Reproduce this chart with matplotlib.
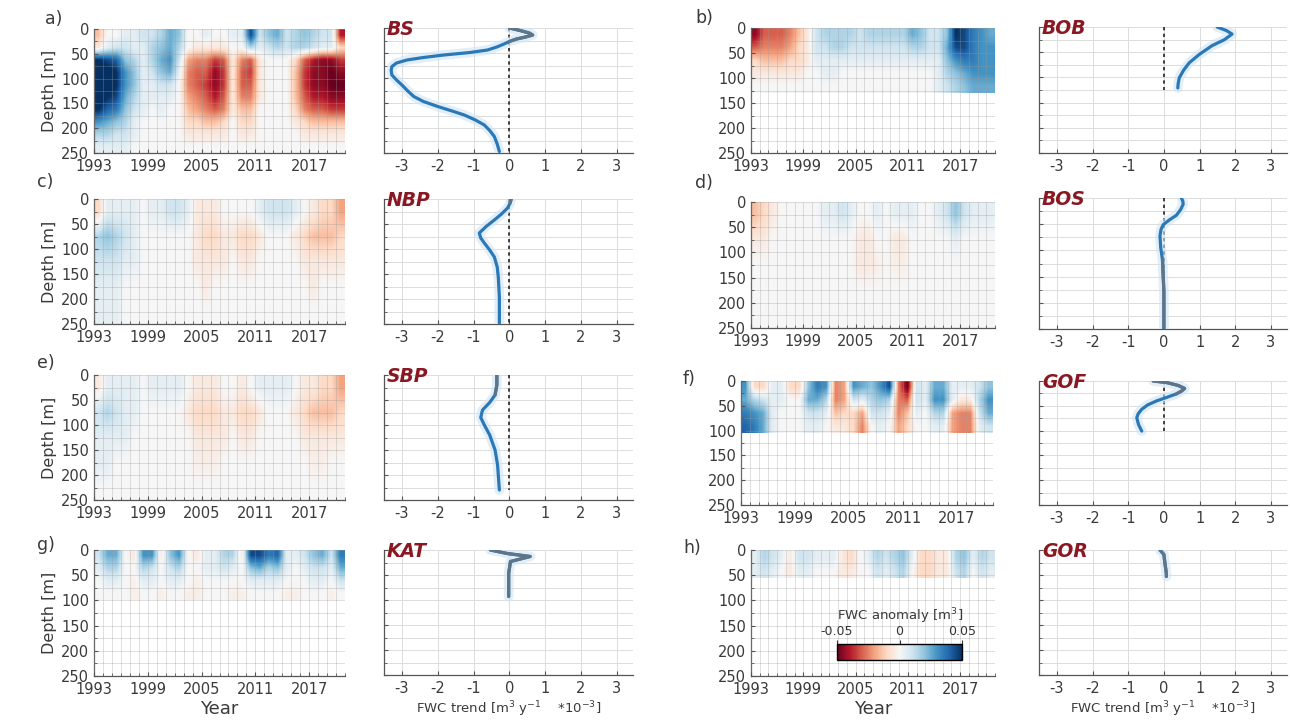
import numpy as np
import matplotlib.pyplot as plt
from matplotlib.ticker import MultipleLocator

plt.rcParams['axes.unicode_minus'] = False

W, H = 1290, 724
fig = plt.figure(figsize=(W / 100, H / 100), dpi=100)

# years on the x axis of the anomaly panels
years = list(range(1993, 2021))

# FWC anomaly in 1e-3 m^3: one row per depth layer (top -> bottom), one column per year
bs_bottom = 250
bs_anom = [
    [-15, 0, 0, 5, 5, 10, 10, 15, 25, 20, 0, 0, 5, 0, 0, 5, 5, 45, 10, 20, 25, 10, 15, 20, 15, 10, 10, -40],
    [-5, 5, 10, 10, 5, 5, 15, 20, 25, 15, 0, -5, -5, -5, -5, 0, 0, 15, 5, 10, 15, 10, 15, 15, 10, 5, 5, -10],
    [50, 45, 40, 20, 15, 5, 15, 25, 30, 10, -20, -25, -25, -35, -30, -5, -25, -30, -5, 0, 0, 0, -10, -30, -40, -45, -45, -35],
    [55, 55, 50, 30, 20, 5, 10, 20, 25, 5, -25, -30, -30, -45, -35, -5, -30, -35, -5, 0, 0, 0, -15, -35, -45, -45, -50, -45],
    [55, 55, 50, 30, 20, 5, 5, 10, 10, 0, -25, -30, -35, -45, -35, -5, -30, -30, -5, 0, 0, 0, -15, -35, -45, -45, -50, -50],
    [55, 50, 45, 25, 15, 5, 5, 5, 5, 0, -20, -25, -30, -40, -30, -5, -25, -25, -5, 0, 0, 0, -15, -30, -40, -40, -45, -45],
    [50, 40, 35, 20, 10, 5, 0, 5, 0, 0, -15, -20, -25, -30, -25, -5, -15, -15, 0, 0, 0, 0, -10, -25, -30, -30, -35, -35],
    [30, 25, 20, 15, 5, 0, 0, 0, 0, 0, -10, -10, -15, -15, -10, 0, -10, -10, 0, 0, 0, 0, -5, -10, -15, -15, -15, -15],
    [15, 15, 10, 10, 5, 0, 0, 0, 0, 0, -5, -5, -5, -5, -5, 0, -5, -5, 0, 0, 0, 0, 0, -5, -5, -5, -5, -5],
    [5, 5, 5, 5, 0, 0, 0, 0, 0, 0, 0, 0, 0, 0, 0, 0, 0, 0, 0, 0, 0, 0, 0, 0, 0, 0, 0, 0],
]
bob_bottom = 130
bob_anom = [
    [-45, -30, -30, -30, -25, -15, -5, 10, 15, 15, 15, 15, 10, 15, 15, 15, 15, 15, 25, 20, 10, 10, 20, 50, 45, 35, 30, 25],
    [-30, -25, -25, -25, -20, -10, -5, 10, 10, 15, 15, 10, 10, 10, 10, 10, 10, 10, 15, 15, 10, 10, 25, 45, 45, 35, 30, 30],
    [-10, -15, -15, -15, -10, -10, -5, 5, 5, 5, 5, 5, 5, 5, 5, 5, 5, 5, 5, 5, 5, 5, 20, 30, 35, 35, 30, 30],
    [-5, -5, -5, -5, -5, -5, 0, 0, 5, 5, 0, 0, 0, 0, 0, 0, 0, 0, 0, 0, 0, 5, 15, 20, 25, 30, 30, 30],
    [0, 0, 0, 0, 0, 0, 0, 0, 0, 0, 0, 0, 0, 0, 0, 0, 0, 0, 0, 0, 0, 5, 10, 15, 20, 25, 25, 25],
]
nbp_bottom = 250
nbp_anom = [
    [-10, 5, 5, 5, 5, 0, 5, 5, 10, 10, 5, -5, -5, -5, 0, 0, 0, 0, 5, 10, 10, 10, 5, 0, -5, -10, -10, -20],
    [15, 20, 15, 10, 5, 0, 0, 0, 0, 0, 0, -5, -10, -10, -5, -5, -10, -10, -5, 0, 0, 0, -5, -10, -15, -15, -15, -10],
    [10, 10, 10, 5, 5, 0, 0, 0, 0, 0, 0, -5, -5, -5, -5, 0, -5, -5, 0, 0, 0, 0, 0, -5, -5, -5, -5, -5],
    [5, 5, 5, 0, 0, 0, 0, 0, 0, 0, 0, 0, -5, 0, 0, 0, 0, 0, 0, 0, 0, 0, 0, 0, -5, 0, 0, 0],
    [5, 5, 5, 0, 0, 0, 0, 0, 0, 0, 0, 0, 0, 0, 0, 0, 0, 0, 0, 0, 0, 0, 0, 0, 0, 0, 0, 0],
]
bos_bottom = 250
bos_anom = [
    [-15, -10, -5, 0, 0, 0, 0, 0, 5, 5, 10, 5, 0, 0, 5, 0, 5, 5, 5, 0, 0, 5, 10, 20, 10, 5, 5, 5],
    [-5, -5, 0, 0, 0, 0, 0, 0, 0, 0, 0, 0, -5, -5, 0, 0, -5, -5, 0, 0, 0, 0, 0, 5, 0, 0, 0, 0],
    [0, 0, 0, 0, 0, 0, 0, 0, 0, 0, 0, 0, -5, -5, -3, 0, -3, -3, 0, 0, 0, 0, 0, 0, 0, 0, 0, 0],
    [0, 0, 0, 0, 0, 0, 0, 0, 0, 0, 0, 0, 0, 0, 0, 0, 0, 0, 0, 0, 0, 0, 0, 0, 0, 0, 0, 0],
    [0, 0, 0, 0, 0, 0, 0, 0, 0, 0, 0, 0, 0, 0, 0, 0, 0, 0, 0, 0, 0, 0, 0, 0, 0, 0, 0, 0],
]
sbp_bottom = 250
sbp_anom = [
    [-5, 5, 5, 5, 5, 0, 5, 5, 5, 5, 0, -5, -5, -5, 0, 0, -5, 0, 5, 5, 5, 5, 0, -5, -5, -10, -10, -20],
    [10, 15, 10, 5, 5, 0, 0, 0, 0, 0, -5, -10, -10, -10, -5, -5, -10, -10, -5, 0, 0, 0, -5, -10, -15, -15, -15, -10],
    [5, 5, 5, 5, 0, 0, 0, 0, 0, 0, 0, -5, -5, -5, -5, 0, -5, -5, 0, 0, 0, 0, 0, -5, -5, -5, -5, -5],
    [5, 5, 0, 0, 0, 0, 0, 0, 0, 0, 0, -3, -3, -3, 0, 0, 0, 0, 0, 0, 0, 0, 0, 0, -3, -3, 0, 0],
    [0, 0, 0, 0, 0, 0, 0, 0, 0, 0, 0, 0, 0, 0, 0, 0, 0, 0, 0, 0, 0, 0, 0, 0, 0, 0, 0, 0],
]
gof_bottom = 105
gof_anom = [
    [30, -10, -10, 5, 5, -10, -10, 20, 35, 30, -25, -20, 30, 25, 20, 30, 45, -25, -50, 10, 5, 25, 25, 5, 5, 5, 10, 20],
    [25, 15, 10, 5, 5, 0, 0, 25, 25, 15, -25, -20, 10, 5, 15, 20, 15, -25, -30, 10, 5, 30, 30, 5, -5, -5, 15, 30],
    [35, 30, 25, 5, 0, 0, 0, 10, 10, 5, -15, -10, -10, -20, 10, 10, 5, -25, -15, 5, 0, 15, 15, -20, -25, -25, 10, 25],
    [40, 35, 25, 5, 0, 0, 0, 5, 5, 0, -5, -5, -10, -25, 0, 5, 0, -20, -10, 0, 0, 5, 5, -20, -25, -25, 5, 10],
]
kat_bottom = 100
kat_anom = [
    [10, 25, 25, 0, -5, 30, 30, -5, 20, 30, 0, -5, 5, 5, 15, 15, -5, 45, 45, 35, 40, 5, 5, 10, 20, 25, 10, 35],
    [5, 15, 15, 0, 0, 15, 10, 0, 10, 15, 0, 0, 5, 5, 10, 5, 0, 20, 25, 15, 20, 5, 0, 5, 10, 10, 5, 25],
    [0, 5, 5, 0, -3, 5, 5, 0, 5, 5, 0, -3, 0, 0, 0, 0, 0, 5, 5, 5, 5, 0, 0, 0, 5, 5, 0, 10],
    [0, 0, 0, 0, -3, 0, 0, -3, 0, 0, -3, -3, 0, 0, 0, -3, -3, 0, 0, 0, 0, -3, -3, 0, 0, 0, -3, 0],
]
gor_bottom = 55
gor_anom = [
    [5, 15, 10, 5, -5, 10, 10, 5, 5, 5, -5, -10, 0, 5, 15, 10, 15, 20, 5, -10, -10, -5, -5, 15, 20, 5, 15, 10],
    [5, 10, 5, 0, -5, 5, 5, 0, 0, 0, -5, -5, 0, 0, 10, 5, 10, 15, 0, -10, -10, -5, -5, 10, 15, 0, 10, 5],
]

# FWC trend profiles (1e-3 m^3 / yr) against depth (m)
bs_depth = [0, 5, 10, 14, 18, 22, 27, 32, 38, 44, 49, 54, 59, 64, 70, 77, 85, 94, 104, 114,
            125, 137, 147, 157, 166, 174, 184, 194, 205, 217, 232, 247]
bs_trend = [0, 0.3, 0.55, 0.65, 0.45, 0.2, 0, -0.15, -0.35, -0.61, -1.1, -1.83, -2.4, -2.86, -3.15, -3.28,
            -3.3, -3.28, -3.15, -3.0, -2.85, -2.67, -2.4, -2.0, -1.6, -1.26, -0.95, -0.7, -0.55, -0.42, -0.34, -0.28]
bob_depth = [0, 7, 14, 25, 37, 54, 71, 86, 101, 112, 121]
bob_trend = [1.49, 1.75, 1.91, 1.7, 1.35, 1.0, 0.71, 0.55, 0.43, 0.4, 0.39]
nbp_depth = [0, 8, 18, 30, 42, 55, 68, 78, 88, 102, 116, 136, 156, 196, 248]
nbp_trend = [0.05, 0.02, -0.05, -0.22, -0.42, -0.65, -0.84, -0.8, -0.7, -0.55, -0.42, -0.34, -0.31, -0.28, -0.28]
bos_depth = [0, 6, 12, 22, 33, 42, 51, 60, 72, 94, 118, 148, 179, 237, 250]
bos_trend = [0.49, 0.53, 0.54, 0.47, 0.35, 0.15, -0.02, -0.08, -0.11, -0.09, -0.04, -0.02, 0, 0, 0]
sbp_depth = [0, 20, 40, 55, 70, 85, 100, 120, 150, 180, 210, 230]
sbp_trend = [-0.35, -0.35, -0.4, -0.55, -0.75, -0.8, -0.7, -0.55, -0.4, -0.33, -0.3, -0.28]
gof_depth = [0, 3, 9, 15, 20, 26, 33, 40, 48, 57, 66, 74, 88, 101]
gof_trend = [-0.3, 0.07, 0.4, 0.58, 0.5, 0.35, 0.08, -0.2, -0.45, -0.62, -0.72, -0.76, -0.71, -0.62]
kat_depth = [0, 7, 13, 23, 47, 93]
kat_trend = [-0.53, -0.06, 0.58, 0.03, -0.02, -0.02]
gor_depth = [0, 9, 27, 47, 53]
gor_trend = [-0.11, 0, 0.03, 0.07, 0.07]

names = ['BS', 'BOB', 'NBP', 'BOS', 'SBP', 'GOF', 'KAT', 'GOR']
letters = ['a)', 'b)', 'c)', 'd)', 'e)', 'f)', 'g)', 'h)']
anoms = [bs_anom, bob_anom, nbp_anom, bos_anom, sbp_anom, gof_anom, kat_anom, gor_anom]
bottoms = [bs_bottom, bob_bottom, nbp_bottom, bos_bottom, sbp_bottom, gof_bottom, kat_bottom, gor_bottom]
depths = [bs_depth, bob_depth, nbp_depth, bos_depth, sbp_depth, gof_depth, kat_depth, gor_depth]
trends = [bs_trend, bob_trend, nbp_trend, bos_trend, sbp_trend, gof_trend, kat_trend, gor_trend]
# depth range where the trend is drawn grey (not significant)
grey_ranges = [(0, 30), (0, 0), (0, 8), (110, 250), (0, 40), (0, 30), (0, 100), (0, 60)]
zero_line = [250, 125, 250, 250, 230, 100, 0, 0]

# axes boxes in pixels: (left, top, right, bottom)
heat_boxes = [(94, 29, 345, 153), (751, 28, 995, 153),
              (94, 199, 345, 324), (751, 202, 995, 328),
              (94, 375, 345, 500), (741, 381, 993, 505),
              (94, 550, 345, 676), (751, 550, 995, 676)]
prof_boxes = [(384, 28, 633, 153), (1039, 27, 1287, 153),
              (384, 199, 633, 324), (1039, 198, 1287, 329),
              (384, 375, 633, 500), (1039, 381, 1287, 505),
              (384, 550, 633, 675), (1039, 550, 1287, 675)]
letter_pos = [(45, 19), (695, 18), (37, 182), (695, 183), (37, 363), (683, 379), (37, 545), (683, 548)]

TXT = '#3a3a3a'
BLUE = '#2b78b6'
GREY = '#5f7587'


def add_box(b):
    x0, y0, x1, y1 = b
    return fig.add_axes([x0 / W, 1 - y1 / H, (x1 - x0) / W, (y1 - y0) / H])


def style(ax):
    for s in ['top', 'right']:
        ax.spines[s].set_visible(False)
    for s in ['left', 'bottom']:
        ax.spines[s].set_color('#555555')
        ax.spines[s].set_linewidth(0.9)
    ax.tick_params(which='both', direction='in', colors='#555555', labelcolor=TXT, labelsize=10.5)
    ax.tick_params(which='major', length=3)
    ax.tick_params(which='minor', length=2)
    ax.tick_params(axis='x', pad=4.5)
    ax.set_ylim(250, 0)
    ax.yaxis.set_major_locator(MultipleLocator(50))
    ax.yaxis.set_minor_locator(MultipleLocator(25))


for i in range(8):
    # anomaly section
    ax = add_box(heat_boxes[i])
    data = np.array(anoms[i], dtype=float) * 1e-3
    ax.imshow(data, cmap='RdBu', vmin=-0.05, vmax=0.05, aspect='auto',
              extent=[years[0], years[-1] + 1, bottoms[i], 0], interpolation='bilinear')
    style(ax)
    ax.set_xlim(1993, 2021)
    ax.set_xticks([1993, 1999, 2005, 2011, 2017])
    ax.xaxis.set_minor_locator(MultipleLocator(1))
    ax.grid(which='both', color='#9a9a9a', lw=0.45, alpha=0.5)
    ax.set_axisbelow(False)
    if i % 2 == 0:
        ax.set_ylabel('Depth [m]', fontsize=11.5, color=TXT, labelpad=3)
    if i >= 6:
        ax.set_xlabel('Year', fontsize=13, color=TXT, labelpad=2)
    fig.text(letter_pos[i][0] / W, 1 - letter_pos[i][1] / H, letters[i], fontsize=12.5,
             color=TXT, va='center', ha='left')

    # trend profile
    ax = add_box(prof_boxes[i])
    style(ax)
    ax.set_yticklabels([])
    ax.set_yticklabels([], minor=True)
    ax.set_xlim(-3.5, 3.45)
    ax.set_xticks([-3, -2, -1, 0, 1, 2, 3])
    ax.grid(which='major', axis='x', color='#dcdcdc', lw=0.7)
    ax.grid(which='both', axis='y', color='#dcdcdc', lw=0.7)
    ax.set_axisbelow(True)
    d = np.array(depths[i])
    t = np.array(trends[i])
    if zero_line[i] > 0:
        ax.plot([0, 0], [0, zero_line[i]], color='#222222', lw=1.2, ls=(0, (2, 2)), zorder=2)
    ax.plot(t, d, color='#cfe5f5', lw=7, alpha=0.6, solid_capstyle='round', zorder=3)
    ax.plot(t, d, color=BLUE, lw=2.3, solid_capstyle='round', solid_joinstyle='round', zorder=4)
    g0, g1 = grey_ranges[i]
    if g1 > g0:
        tg = np.where((d >= g0) & (d <= g1), t, np.nan)
        ax.plot(tg, d, color=GREY, lw=2.3, solid_capstyle='round', solid_joinstyle='round', zorder=5)
    ax.text(0.012, 0.985, names[i], transform=ax.transAxes, fontsize=13.5, fontweight='bold',
            fontstyle='italic', color='#8a1822', va='center', ha='left', zorder=6)
    if i >= 6:
        ax.set_xlabel('FWC trend [m$^3$ y$^{-1}$    *10$^{-3}$]', fontsize=9.5, color=TXT, labelpad=2)

# colour bar inside panel h
cax = add_box((837, 644, 962, 660))
sm = plt.cm.ScalarMappable(cmap='RdBu', norm=plt.Normalize(-0.05, 0.05))
cb = fig.colorbar(sm, cax=cax, orientation='horizontal', ticks=[-0.05, 0, 0.05])
cb.ax.xaxis.set_ticks_position('top')
cb.ax.set_xticklabels(['-0.05', '0', '0.05'])
cb.ax.tick_params(labelsize=9, colors='#333333', length=3, pad=1)
cb.outline.set_linewidth(1.0)
fig.text(900 / W, 1 - 616 / H, 'FWC anomaly [m$^3$]', fontsize=9.5, color=TXT, ha='center', va='center')

fig.savefig('out.png', dpi=100)
